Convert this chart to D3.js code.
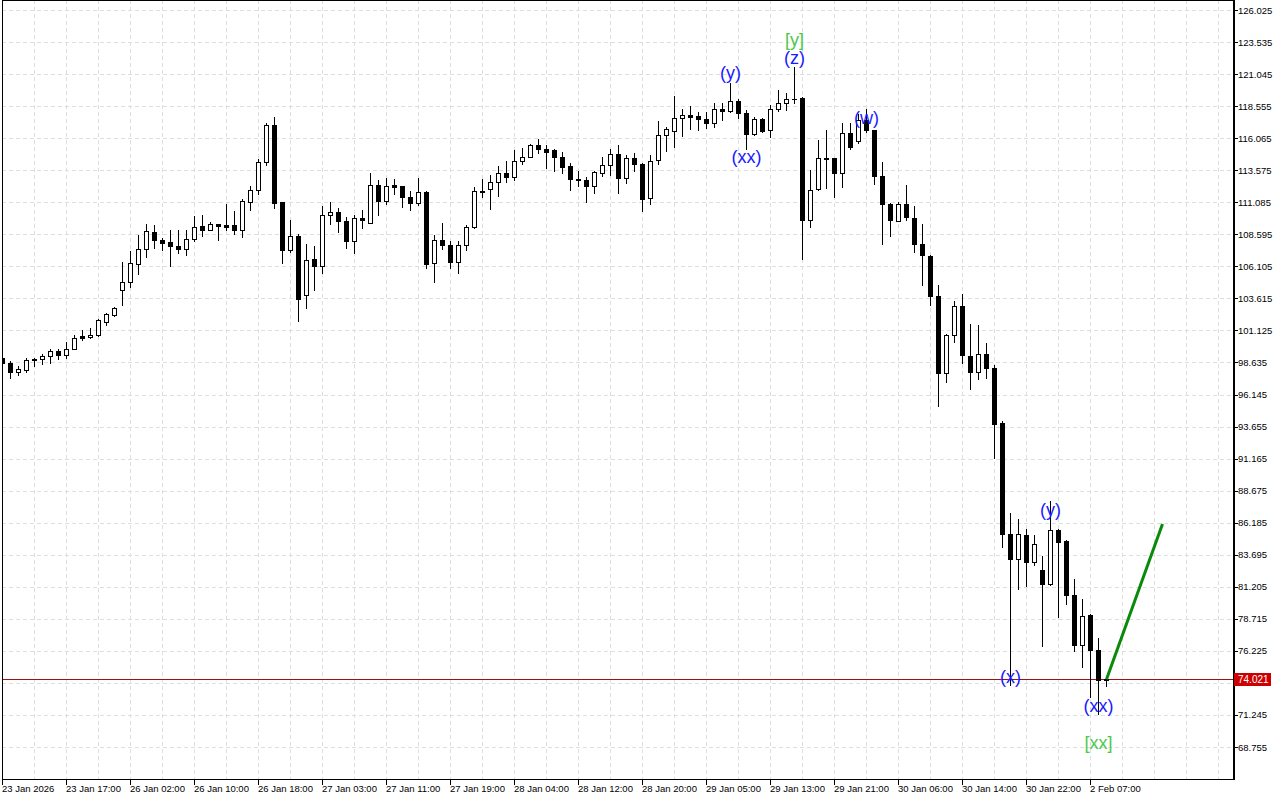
<!DOCTYPE html>
<html><head><meta charset="utf-8">
<script src="https://cdn.jsdelivr.net/npm/d3@7"></script>
<style>body{margin:0;background:#fff;} svg{display:block;}</style>
</head><body>
<svg id="chart" width="1280" height="800"></svg>
<script>
const opens = [99.00,98.63,97.90,98.08,98.94,98.91,99.17,99.56,99.22,99.72,100.67,100.62,100.77,101.78,102.36,104.30,104.92,106.32,107.49,108.81,108.19,107.98,107.72,107.49,108.26,109.22,108.96,109.38,109.30,109.30,108.95,111.14,112.04,114.22,117.07,111.09,107.38,108.44,103.88,106.65,106.13,110.11,110.36,109.66,108.08,109.89,109.51,112.46,111.19,112.41,112.31,111.53,111.06,111.92,106.40,108.19,107.80,106.48,107.80,109.17,111.94,112.15,112.69,113.32,113.07,114.33,114.64,115.57,115.26,115.13,114.64,113.88,112.93,112.85,112.35,113.39,114.01,114.87,112.97,114.56,114.09,111.45,114.35,116.35,116.60,117.67,117.90,117.75,117.59,117.28,118.37,118.21,118.93,118.06,116.42,117.59,116.68,118.37,118.83,119.14,119.22,109.74,112.12,114.56,114.53,113.36,116.50,115.85,117.51,116.68,113.13,110.98,109.63,110.98,109.90,107.88,106.94,103.83,97.85,100.80,103.00,99.17,97.90,99.33,98.24,93.96,85.34,83.40,85.26,83.13,82.54,81.45,85.65,84.74,80.60,76.71,79.04,76.27,74.00];
const highs = [99.19,98.73,98.36,98.96,98.96,99.27,99.66,99.72,100.21,100.80,101.19,101.29,102.02,102.51,102.98,106.42,107.28,108.52,109.37,109.29,108.34,108.91,108.91,108.91,110.02,110.07,109.53,109.40,110.93,110.39,111.30,112.33,114.48,117.25,117.71,111.10,109.69,108.65,107.82,107.69,110.77,111.09,110.64,109.92,110.10,110.52,113.39,112.79,113.00,112.93,112.33,111.99,113.00,111.94,108.57,109.51,108.11,108.11,109.30,112.27,112.93,113.18,113.88,114.27,115.13,115.34,115.59,116.03,115.57,115.26,115.02,114.14,113.49,113.05,113.52,114.60,115.26,115.57,114.74,114.95,114.17,114.74,117.40,116.94,119.32,118.37,118.55,118.10,118.08,118.80,118.80,120.39,119.14,118.23,117.71,117.67,118.62,119.84,119.58,121.60,119.24,113.63,115.90,116.68,114.55,117.25,117.25,117.98,118.37,116.70,114.22,111.00,111.09,112.41,110.79,109.43,106.96,104.69,100.88,103.39,103.99,101.60,101.53,100.18,98.42,94.09,86.97,86.45,85.73,85.26,83.57,87.87,85.67,84.87,81.84,80.29,79.06,77.26,74.03];
const lows = [98.42,97.43,97.69,97.90,98.36,98.55,98.60,98.91,99.02,99.70,100.41,100.57,100.72,101.58,102.25,103.10,104.50,105.54,106.83,107.53,107.36,106.15,107.15,106.99,108.08,108.47,108.96,108.13,108.91,108.62,108.39,110.46,111.71,114.01,110.64,106.37,107.22,101.86,102.85,104.25,105.57,109.38,108.78,107.53,107.15,109.06,109.45,110.13,110.95,111.76,110.72,110.52,110.91,106.01,104.92,107.46,106.01,105.62,107.41,109.12,111.50,110.54,111.57,112.66,112.79,114.06,114.62,114.92,113.75,113.52,113.36,112.04,112.35,111.11,111.81,113.13,113.18,111.81,112.58,113.52,110.41,110.95,114.09,115.07,115.39,116.23,116.78,116.70,116.89,116.94,117.51,118.10,117.64,115.26,116.35,116.55,116.16,118.16,118.23,118.76,106.68,109.17,112.07,112.20,111.50,112.27,115.26,115.69,116.55,112.48,107.87,108.47,109.61,109.69,107.22,104.63,103.08,95.23,97.12,100.23,98.60,96.55,97.35,97.43,91.21,84.30,73.55,81.06,81.27,82.93,76.60,81.38,78.86,79.90,76.22,74.97,72.64,71.30,73.47];
const closes = [98.61,97.90,98.11,98.86,98.83,99.17,99.56,99.19,99.72,100.57,100.57,100.80,101.91,102.43,102.90,104.92,106.40,107.49,108.89,108.16,107.95,107.72,107.46,108.26,109.20,108.96,109.38,109.27,109.20,108.93,111.15,112.07,114.25,117.07,111.03,107.38,108.44,103.55,106.63,106.13,110.13,110.36,109.63,108.08,109.89,109.71,112.46,111.19,112.38,112.27,111.50,111.06,111.92,106.32,108.19,107.80,106.48,107.80,109.20,111.99,111.89,112.69,113.32,113.05,114.33,114.64,115.57,115.23,114.99,114.64,113.83,112.90,112.79,112.35,113.42,114.01,114.87,112.97,114.56,114.09,111.36,114.31,116.35,116.76,117.67,117.90,117.71,117.56,117.28,118.37,118.21,118.93,118.02,116.42,117.59,116.63,118.37,118.83,119.14,119.09,109.74,112.07,114.56,114.48,113.36,116.50,115.38,117.51,116.68,113.13,110.98,109.74,110.98,109.94,107.88,106.99,103.80,97.82,100.80,103.00,99.25,97.90,99.33,98.21,93.89,85.34,83.40,85.34,83.13,84.56,81.45,85.65,84.69,80.60,76.71,78.97,76.32,73.99,74.021];

const priceTicks = ["126.025","123.535","121.045","118.555","116.065","113.575","111.085","108.595","106.105","103.615","101.125","98.635","96.145","93.655","91.165","88.675","86.185","83.695","81.205","78.715","76.225","73.735","71.245","68.755"];
const timeTicks = ["23 Jan 2026","23 Jan 17:00","26 Jan 02:00","26 Jan 10:00","26 Jan 18:00","27 Jan 03:00","27 Jan 11:00","27 Jan 19:00","28 Jan 04:00","28 Jan 12:00","28 Jan 20:00","29 Jan 05:00","29 Jan 13:00","29 Jan 21:00","30 Jan 06:00","30 Jan 14:00","30 Jan 22:00","2 Feb 07:00"];
const barsPerTimeTick = 8;
const barsPerGridLine = 4;

const waveTexts  = ["(y)","(xx)","[y]","(z)","(w)","(x)","(y)","(xx)","[xx]"];
const waveBars   = [91, 93, 99, 99, 108, 126, 131, 137, 137];
const wavePrices = [121.11, 114.58, 123.67, 122.28, 117.61, 74.17, 87.15, 71.92, 69.04];
const waveDegree = ["minor","minor","major","minor","minor","minor","minor","minor","major"];

const projectionBars = [138, 145];
const projectionPrices = [74.021, 86.08];
const currentPrice = 74.021;

const W = 1280, H = 800;
const plotLeft = 2, plotRight = 1233, plotTop = 0, plotBottom = 779;

const svg = d3.select("#chart");
const x = d3.scaleLinear().domain([0, 1]).range([2.5, 10.5]);
const y = d3.scaleLinear().domain([68.755, 126.025]).range([747, 10]);

svg.append("rect").attr("width", W).attr("height", H).attr("fill", "#fff");

svg.append("defs").append("clipPath").attr("id", "plotclip")
  .append("rect").attr("x", plotLeft).attr("y", plotTop)
  .attr("width", plotRight - plotLeft).attr("height", plotBottom - plotTop);

const grid = svg.append("g").attr("clip-path", "url(#plotclip)");
// horizontal grid
grid.selectAll("line.h").data(priceTicks).join("line")
  .attr("x1", plotLeft).attr("x2", plotRight)
  .attr("y1", d => Math.round(y(+d)) + 0.5).attr("y2", d => Math.round(y(+d)) + 0.5)
  .attr("stroke", "#dedede").attr("stroke-dasharray", "4,3");
// vertical grid
const maxBar = Math.floor(x.invert(plotRight));
const gridBars = d3.range(barsPerGridLine, maxBar + 1, barsPerGridLine);
grid.selectAll("line.v").data(gridBars).join("line")
  .attr("x1", d => x(d)).attr("x2", d => x(d))
  .attr("y1", plotTop).attr("y2", plotBottom)
  .attr("stroke", "#dedede").attr("stroke-dasharray", "4,3");

const candles = opens.map((o, i) => ({i, o, h: highs[i], l: lows[i], c: closes[i]}));
const cg = svg.append("g").attr("clip-path", "url(#plotclip)");

// current price line
cg.append("line")
  .attr("x1", plotLeft).attr("x2", plotRight)
  .attr("y1", Math.round(y(currentPrice)) + 0.5).attr("y2", Math.round(y(currentPrice)) + 0.5)
  .attr("stroke", "#a01010").attr("stroke-width", 1);

// wicks
cg.selectAll("line.wick").data(candles).join("line")
  .attr("x1", d => x(d.i)).attr("x2", d => x(d.i))
  .attr("y1", d => Math.round(y(d.h))).attr("y2", d => Math.round(y(d.l)) + 1)
  .attr("stroke", "#000").attr("stroke-width", 1);

// bodies
cg.selectAll("rect.body").data(candles).join("rect")
  .each(function(d) {
    const top = Math.round(y(Math.max(d.o, d.c)));
    const bot = Math.round(y(Math.min(d.o, d.c)));
    const sel = d3.select(this);
    if (d.c > d.o && bot - top >= 2) {
      sel.attr("x", x(d.i) - 2).attr("y", top + 0.5)
        .attr("width", 4).attr("height", Math.max(1, bot - top))
        .attr("fill", "#fff").attr("stroke", "#000").attr("stroke-width", 1);
    } else {
      sel.attr("x", x(d.i) - 2.5).attr("y", top)
        .attr("width", 5).attr("height", Math.max(1, bot - top + 1))
        .attr("fill", "#000");
    }
  });

// projection line
cg.append("line")
  .attr("x1", x(projectionBars[0])).attr("y1", y(projectionPrices[0]))
  .attr("x2", x(projectionBars[1])).attr("y2", y(projectionPrices[1]))
  .attr("stroke", "#0a8a0a").attr("stroke-width", 3);

// wave labels
svg.append("g").selectAll("text").data(waveTexts).join("text")
  .attr("x", (d, k) => x(waveBars[k]))
  .attr("y", (d, k) => y(wavePrices[k]))
  .attr("text-anchor", "middle").attr("dominant-baseline", "central")
  .attr("font-family", "'Liberation Sans', Arial, sans-serif").attr("font-size", 18)
  .attr("fill", (d, k) => waveDegree[k] === "major" ? "#4cc84c" : "#1a1aff")
  .text(d => d);

// frame
svg.append("line").attr("x1", plotLeft + 0.5).attr("x2", plotLeft + 0.5).attr("y1", 0).attr("y2", plotBottom)
  .attr("stroke", "#000");
svg.append("line").attr("x1", plotLeft).attr("x2", plotRight + 1).attr("y1", 0.5).attr("y2", 0.5)
  .attr("stroke", "#000");
svg.append("line").attr("x1", plotLeft).attr("x2", plotRight + 2).attr("y1", plotBottom + 0.5).attr("y2", plotBottom + 0.5)
  .attr("stroke", "#000");
svg.append("line").attr("x1", plotRight + 1).attr("x2", plotRight + 1).attr("y1", 0).attr("y2", plotBottom + 1)
  .attr("stroke", "#000").attr("stroke-width", 2);

// price axis
const pa = svg.append("g");
pa.selectAll("line").data(priceTicks).join("line")
  .attr("x1", plotRight + 2).attr("x2", plotRight + 5)
  .attr("y1", d => Math.round(y(+d)) + 0.5).attr("y2", d => Math.round(y(+d)) + 0.5)
  .attr("stroke", "#000");
pa.selectAll("text").data(priceTicks).join("text")
  .attr("x", plotRight + 5).attr("y", d => y(+d) + 3.5)
  .attr("font-family", "'Liberation Sans', Arial, sans-serif").attr("font-size", 9.5)
  .attr("fill", "#000").text(d => d);

// current price box
const cy = Math.round(y(currentPrice));
svg.append("rect").attr("x", plotRight + 1).attr("y", cy - 6).attr("width", 37).attr("height", 13)
  .attr("fill", "#cc0000");
svg.append("text").attr("x", plotRight + 5).attr("y", cy + 4)
  .attr("font-family", "'Liberation Sans', Arial, sans-serif").attr("font-size", 10)
  .attr("fill", "#fff").text(d3.format(".3f")(currentPrice));

// time axis
const ta = svg.append("g");
ta.selectAll("line").data(timeTicks).join("line")
  .attr("x1", (d, k) => x(k * barsPerTimeTick)).attr("x2", (d, k) => x(k * barsPerTimeTick))
  .attr("y1", plotBottom).attr("y2", plotBottom + 6)
  .attr("stroke", "#000");
ta.selectAll("text").data(timeTicks).join("text")
  .attr("x", (d, k) => x(k * barsPerTimeTick) - 0.5).attr("y", plotBottom + 13)
  .attr("font-family", "'Liberation Sans', Arial, sans-serif").attr("font-size", 9.5)
  .attr("fill", "#000").text(d => d);
</script>
</body></html>
